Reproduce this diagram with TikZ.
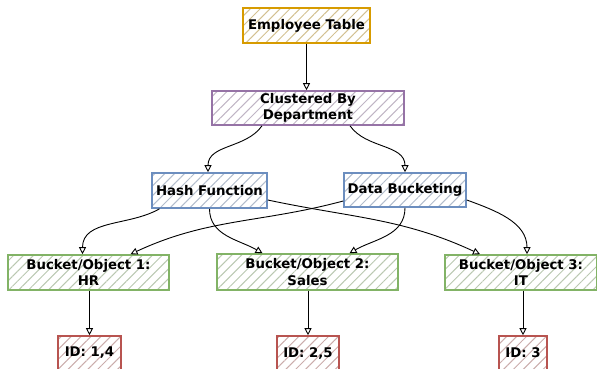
\documentclass[tikz,border=0pt]{standalone}
\usepackage{fontspec}
\setmainfont{DejaVu Sans}
\usetikzlibrary{arrows.meta,patterns.meta,calc}
\definecolor{cOrange}{HTML}{D79B00}
\definecolor{cPurple}{HTML}{9673A6}
\definecolor{cBlue}{HTML}{6C8EBF}
\definecolor{cGreen}{HTML}{82B366}
\definecolor{cRed}{HTML}{B85450}
\tikzset{
  box/.style={draw=#1, line width=1.6pt, rectangle, inner sep=0pt, align=center,
    font=\bfseries\fontsize{13.3}{16.5}\selectfont, text=black,
    pattern={Lines[angle=45,distance=7pt,line width=1pt]}, pattern color=#1!55!gray!55},
  conn/.style={draw=black, line width=0.9pt, -{Triangle[open,length=7pt,width=7pt,fill=white]}},
}
\begin{document}
\begin{tikzpicture}[x=1pt,y=-1pt]
\useasboundingbox (0,0) rectangle (597,368);
\clip (0,0) rectangle (597,368);
\node[box=cOrange, minimum width=127pt, minimum height=35pt] (emp) at (306.5,25.5) {Employee Table};
\node[box=cPurple, minimum width=192pt, minimum height=34pt] (clu) at (308,108) {Clustered By\\Department};
\node[box=cBlue, minimum width=115pt, minimum height=35pt] (hash) at (209.5,190.5) {Hash Function};
\node[box=cBlue, minimum width=122pt, minimum height=34pt] (db) at (405,190) {Data Bucketing};
\node[box=cGreen, minimum width=161pt, minimum height=35pt] (b1) at (88.5,272.5) {Bucket/Object 1:\\HR};
\node[box=cGreen, minimum width=181pt, minimum height=36pt] (b2) at (307.5,272) {Bucket/Object 2:\\Sales};
\node[box=cGreen, minimum width=152pt, minimum height=35pt] (b3) at (521,272.5) {Bucket/Object 3:\\IT};
\node[box=cRed, minimum width=63pt, minimum height=34pt] (id1) at (89.5,353) {ID: 1,4};
\node[box=cRed, minimum width=62pt, minimum height=34pt] (id2) at (308,353) {ID: 2,5};
\node[box=cRed, minimum width=48pt, minimum height=34pt] (id3) at (523,353) {ID: 3};

\draw[conn] (emp.south) -- (emp.south |- clu.north);
\draw[conn] ($(clu.south)+(-46,0)$) to[out=-125,in=90] ($(hash.north)+(-1.5,0)$);
\draw[conn] ($(clu.south)+(42,0)$) to[out=-55,in=90] (db.north);
\draw[conn] ($(hash.south)+(-50,0)$) to[out=-150,in=90] ($(b1.north)+(-6,0)$);
\draw[conn] (hash.south) to[out=-90,in=150] ($(b2.north)+(-45,0)$);
\draw[conn] ($(hash.east)+(0,9.5)$) to[out=-12,in=155] ($(b3.north)+(-41,0)$);
\draw[conn] ($(db.west)+(0,11)$) to[out=195,in=25] ($(b1.north)+(42,0)$);
\draw[conn] (db.south) to[out=-90,in=30] ($(b2.north)+(42,0)$);
\draw[conn] ($(db.east)+(0,10)$) to[out=-20,in=90] ($(b3.north)+(6,0)$);
\draw[conn] (id1.north |- b1.south) -- (id1.north);
\draw[conn] (id2.north |- b2.south) -- (id2.north);
\draw[conn] (id3.north |- b3.south) -- (id3.north);
\end{tikzpicture}
\end{document}
